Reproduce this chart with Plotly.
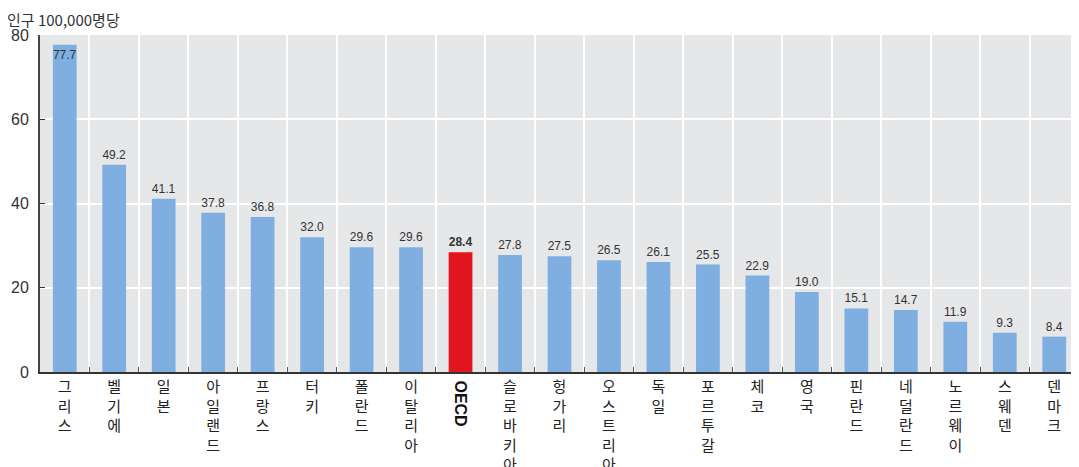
import plotly.graph_objects as go

# 국가별 값 (인구 100,000명당)
countries = ['그리스', '벨기에', '일본', '아일랜드', '프랑스', '터키', '폴란드', '이탈리아', 'OECD',
             '슬로바키아', '헝가리', '오스트리아', '독일', '포르투갈', '체코', '영국', '핀란드',
             '네덜란드', '노르웨이', '스웨덴', '덴마크']
values = [77.7, 49.2, 41.1, 37.8, 36.8, 32.0, 29.6, 29.6, 28.4, 27.8, 27.5, 26.5, 26.1, 25.5,
          22.9, 19.0, 15.1, 14.7, 11.9, 9.3, 8.4]
y_ticks = [0, 20, 40, 60, 80]

blue = '#7faee0'
red = '#e2141d'
colors = [red if c == 'OECD' else blue for c in countries]
labels = ['<b>%.1f</b>' % v if c == 'OECD' else '%.1f' % v for c, v in zip(countries, values)]
positions = ['inside' if v > 75 else 'outside' for v in values]

# 세로 쓰기 라벨 (한 글자씩 줄바꿈), OECD는 따로 회전해서 표시
ticktext = ['' if c == 'OECD' else '<br>'.join(list(c)) for c in countries]

fig = go.Figure(go.Bar(
    x=countries, y=values,
    marker=dict(color=colors, line=dict(width=0)),
    text=labels, textposition=positions, textangle=0,
    insidetextanchor='end',
    textfont=dict(size=12, color='#333333', family='Liberation Sans, Noto Sans CJK KR'),
    cliponaxis=False,
    width=0.48,
))

# 페이지 body 여백(8px)을 감안한 여백
fig.update_layout(
    width=1079, height=467,
    margin=dict(l=32, r=8, t=27, b=103),
    paper_bgcolor='white', plot_bgcolor='#e6e7e8',
    font=dict(family='Noto Sans CJK KR, Liberation Sans', color='#222222'),
    showlegend=False,
    uniformtext=dict(minsize=12, mode='show'),
)

fig.update_xaxes(
    type='category', tickmode='array', tickvals=countries, ticktext=ticktext,
    tickangle=0, tickfont=dict(size=15, color='#222222'), automargin=False,
    tickson='boundaries', showgrid=True, gridcolor='white', gridwidth=2,
    ticks='inside', ticklen=5, tickcolor='#555555',
    showline=True, linecolor='#333333', linewidth=2,
)
fig.update_yaxes(
    range=[0, 80], tickvals=y_ticks, ticks='inside', ticklen=5, tickcolor='#333333',
    tickfont=dict(size=16, color='#333333', family='Liberation Sans'), automargin=False,
    ticklabelstandoff=6,
    showgrid=True, gridcolor='white', gridwidth=2, zeroline=False,
    showline=True, linecolor='#444444', linewidth=2,
)

fig.add_annotation(x='OECD', xref='x', y=0, yref='paper', yshift=-6,
                   text='<b>OECD</b>', textangle=90, showarrow=False,
                   xanchor='center', yanchor='top',
                   font=dict(size=16, color='#111111', family='Liberation Sans'))
fig.add_annotation(x=0, xref='paper', xshift=-35, y=1, yref='paper', yshift=16,
                   text='인구 100,000명당', showarrow=False, xanchor='left', yanchor='middle',
                   font=dict(size=15, color='#333333'))

fig.write_html("out.html")
